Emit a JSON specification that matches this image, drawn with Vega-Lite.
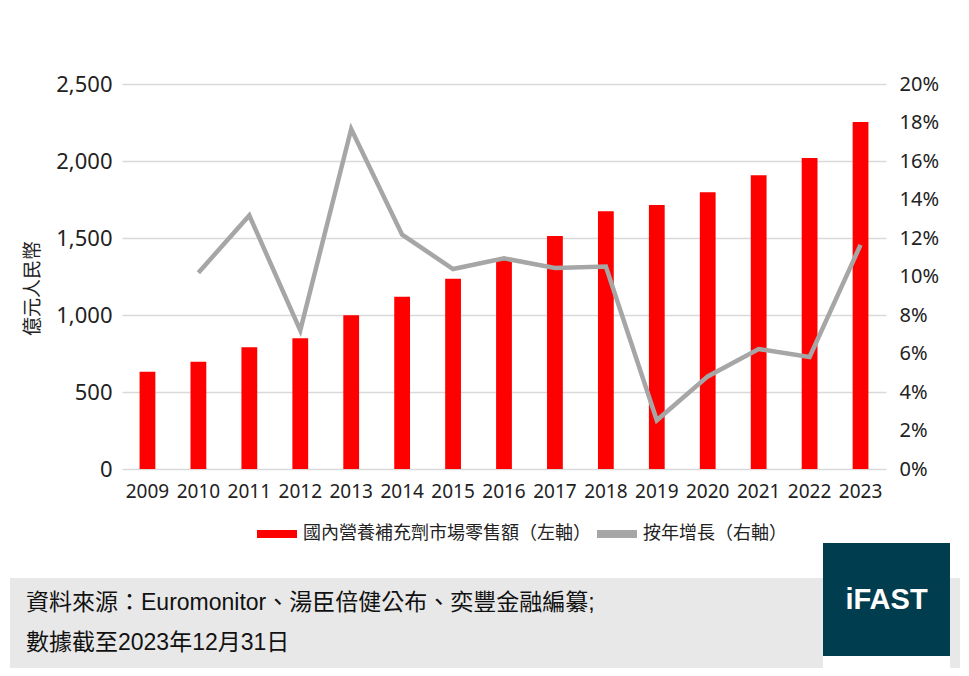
{
  "$schema": "https://vega.github.io/schema/vega-lite/v6.json",
  "background": "white",
  "padding": {"left": 10, "top": 73, "right": 0, "bottom": 0},
  "spacing": 0,
  "config": {"view": {"stroke": null}, "font": "Noto Sans"},
  "resolve": {"scale": {"color": "independent"}, "legend": {"color": "independent"}},
  "vconcat": [
    {
      "bounds": "flush",
      "spacing": 0,
      "resolve": {"scale": {"color": "independent"}, "legend": {"color": "independent"}},
      "hconcat": [
        {
          "width": 112,
          "height": 385,
          "data": {"values": [{"t": ""}]},
          "mark": {"type": "text"},
          "encoding": {"text": {"field": "t"}}
        },
        {
          "width": 764,
          "height": 385,
          "data": {
            "values": [
              {"year": 2009, "sales": 632, "growth": null},
              {"year": 2010, "sales": 697, "growth": 0.102},
              {"year": 2011, "sales": 790, "growth": 0.1317},
              {"year": 2012, "sales": 849, "growth": 0.072},
              {"year": 2013, "sales": 998, "growth": 0.1766},
              {"year": 2014, "sales": 1119, "growth": 0.1217},
              {"year": 2015, "sales": 1236, "growth": 0.1039},
              {"year": 2016, "sales": 1368, "growth": 0.1094},
              {"year": 2017, "sales": 1513, "growth": 0.1044},
              {"year": 2018, "sales": 1673, "growth": 0.1052},
              {"year": 2019, "sales": 1714, "growth": 0.0253},
              {"year": 2020, "sales": 1797, "growth": 0.0481},
              {"year": 2021, "sales": 1907, "growth": 0.0623},
              {"year": 2022, "sales": 2020, "growth": 0.0582},
              {"year": 2023, "sales": 2253, "growth": 0.1164}
            ]
          },
          "layer": [
            {
              "mark": {"type": "bar"},
              "encoding": {
                "x": {
                  "field": "year",
                  "type": "ordinal",
                  "scale": {"paddingInner": 0.69, "paddingOuter": 0.345},
                  "axis": {"title": null, "labelAngle": 0, "labelFontSize": 19, "labelPadding": 13, "ticks": false, "domain": false, "labelColor": "#222222", "labelFont": "Noto Sans"}
                },
                "y": {
                  "field": "sales",
                  "type": "quantitative",
                  "scale": {"domain": [0, 2500]},
                  "axis": {
                    "title": "億元人民幣",
                    "values": [0, 500, 1000, 1500, 2000, 2500],
                    "format": ",.0f",
                    "labelFontSize": 22,
                    "labelFont": "Noto Sans",
                    "labelColor": "#222222",
                    "labelPadding": 10,
                    "ticks": false,
                    "domain": false,
                    "gridColor": "#d9d9d9",
                    "gridWidth": 1.5,
                    "titleFont": "Noto Sans CJK TC",
                    "titleFontSize": 19,
                    "titleFontWeight": "normal",
                    "titleColor": "#222222",
                    "titlePadding": 13,
                    "titleY": 204
                  }
                },
                "color": {
                  "datum": "國內營養補充劑市場零售額（左軸）",
                  "type": "nominal",
                  "scale": {"domain": ["國內營養補充劑市場零售額（左軸）", "按年增長（右軸）"], "range": ["#ff0000", "#a6a6a6"]},
                  "legend": {
                    "orient": "none",
                    "legendX": 135,
                    "legendY": 430,
                    "direction": "horizontal",
                    "title": null,
                    "labelFontSize": 18,
                    "labelLimit": 500,
                    "labelFont": "Noto Sans CJK TC",
                    "labelColor": "#222222",
                    "symbolSize": 1600,
                    "symbolType": "M-1,-0.2H1V0.2H-1Z",
                    "symbolStrokeWidth": 0,
                    "labelOffset": 6,
                    "columnPadding": 6
                  }
                }
              }
            },
            {
              "mark": {"type": "line", "strokeWidth": 4.5},
              "encoding": {
                "x": {"field": "year", "type": "ordinal"},
                "y": {
                  "field": "growth",
                  "type": "quantitative",
                  "scale": {"domain": [0, 0.2]},
                  "axis": {
                    "orient": "right",
                    "title": null,
                    "values": [0, 0.02, 0.04, 0.06, 0.08, 0.1, 0.12, 0.14, 0.16, 0.18, 0.2],
                    "format": ".0%",
                    "grid": false,
                    "ticks": false,
                    "domain": false,
                    "labelFontSize": 20,
                    "labelFont": "Noto Sans",
                    "labelColor": "#222222",
                    "labelPadding": 13
                  }
                },
                "color": {"datum": "按年增長（右軸）", "type": "nominal"}
              }
            }
          ],
          "resolve": {"scale": {"y": "independent"}}
        }
      ]
    },
    {
      "spacing": 0,
      "hconcat": [
        {
          "spacing": 0,
          "vconcat": [
            {
              "width": 813,
              "height": 35,
              "data": {"values": [{"t": ""}]},
              "mark": {"type": "text"},
              "encoding": {"text": {"field": "t"}}
            },
            {
              "width": 813,
              "height": 90,
              "view": {"fill": "#e8e8e8", "stroke": null},
              "data": {
                "values": [
                  {"line": 1, "col": "src", "text": "資料來源：Euromonitor、湯臣倍健公布、奕豐金融編纂;"},
                  {"line": 2, "col": "src", "text": "數據截至2023年12月31日"}
                ]
              },
              "mark": {"type": "text", "align": "left", "baseline": "middle", "fontSize": 23, "font": "Liberation Sans, Noto Sans CJK TC", "color": "#111111", "dx": 16},
              "encoding": {
                "x": {"field": "col", "type": "nominal", "scale": {"type": "point", "padding": 0, "align": 0}, "axis": null},
                "y": {"field": "line", "type": "ordinal", "scale": {"type": "point", "padding": 0.6}, "axis": null},
                "text": {"field": "text"}
              }
            }
          ]
        },
        {
          "width": 127,
          "height": 113,
          "view": {"fill": "#003d4f", "stroke": null},
          "data": {"values": [{"label": "iFAST"}]},
          "mark": {"type": "text", "color": "#ffffff", "fontSize": 29, "fontWeight": "bold", "font": "Liberation Sans"},
          "encoding": {"text": {"field": "label"}}
        },
        {
          "spacing": 0,
          "vconcat": [
            {
              "width": 10,
              "height": 35,
              "data": {"values": [{"t": ""}]},
              "mark": {"type": "text"},
              "encoding": {"text": {"field": "t"}}
            },
            {
              "width": 10,
              "height": 90,
              "view": {"fill": "#e8e8e8", "stroke": null},
              "data": {"values": [{"t": ""}]},
              "mark": {"type": "text"},
              "encoding": {"text": {"field": "t"}}
            }
          ]
        }
      ]
    }
  ]
}
